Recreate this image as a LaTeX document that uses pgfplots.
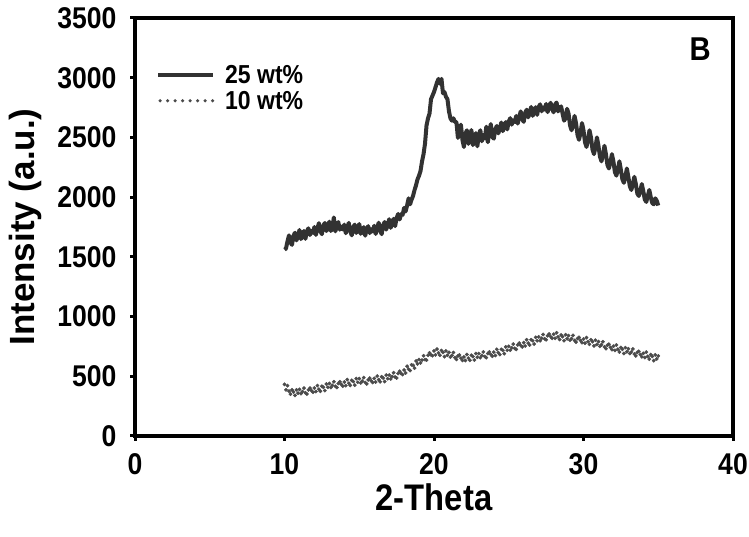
\documentclass[border=0pt]{standalone}
\usepackage{fontspec}
\setmainfont{Liberation Sans}
\newfontfamily\lab{Liberation Sans}[FakeStretch=0.885]
\usepackage{pgfplots}
\pgfplotsset{compat=1.18}
\usepackage{pgfplotstable}
\definecolor{lineA}{RGB}{50,50,50}
\definecolor{dotB}{RGB}{75,75,75}

% 25 wt%
\pgfplotstableread{
x y
10.0 1560
10.1 1570
10.2 1630
10.3 1680
10.4 1620
10.5 1600
10.6 1676
10.7 1702
10.8 1638
10.9 1674
11.0 1725
11.1 1649
11.2 1678
11.3 1717
11.4 1651
11.5 1715
11.6 1739
11.7 1683
11.8 1717
11.9 1701
12.0 1750
12.1 1684
12.2 1738
12.3 1782
12.4 1716
12.5 1690
12.6 1762
12.7 1784
12.8 1716
12.9 1748
13.0 1795
13.1 1717
13.2 1744
13.3 1830
13.4 1713
13.5 1775
13.6 1791
13.7 1727
13.8 1753
13.9 1729
14.0 1770
14.1 1698
14.2 1746
14.3 1784
14.4 1712
14.5 1680
14.6 1750
14.7 1770
14.8 1700
14.9 1730
15.0 1775
15.1 1693
15.2 1716
15.3 1749
15.4 1677
15.5 1735
15.6 1757
15.7 1699
15.8 1731
15.9 1713
16.0 1760
16.1 1692
16.2 1744
16.3 1786
16.4 1718
16.5 1690
16.6 1766
16.7 1792
16.8 1728
16.9 1764
17.0 1815
17.1 1743
17.2 1776
17.3 1819
17.4 1757
17.5 1825
17.6 1859
17.7 1813
17.8 1857
17.9 1851
18.0 1910
18.1 1880
18.2 1930
18.3 1990
18.4 1940
18.5 1980
18.6 2010
18.7 2060
18.8 2100
18.9 2150
19.0 2180
19.1 2220
19.2 2300
19.3 2360
19.4 2450
19.5 2600
19.6 2660
19.7 2700
19.8 2820
19.9 2850
20.0 2880
20.1 2920
20.2 2960
20.3 2990
20.4 2950
20.5 2990
20.6 2870
20.7 2880
20.8 2840
20.9 2820
21.0 2720
21.1 2660
21.2 2640
21.3 2660
21.4 2630
21.5 2628
21.6 2496
21.7 2556
21.8 2607
21.9 2481
22.0 2420
22.1 2530
22.2 2560
22.3 2446
22.4 2492
22.5 2562
22.6 2436
22.7 2478
22.8 2536
22.9 2426
23.0 2524
23.1 2560
23.2 2468
23.3 2520
23.4 2492
23.5 2590
23.6 2460
23.7 2544
23.8 2612
23.9 2504
24.0 2490
24.1 2568
24.2 2596
24.3 2534
24.4 2572
24.5 2625
24.6 2553
24.7 2586
24.8 2629
24.9 2567
25.0 2635
25.1 2661
25.2 2607
25.3 2643
25.4 2629
25.5 2680
25.6 2616
25.7 2672
25.8 2718
25.9 2654
26.0 2630
26.1 2706
26.2 2732
26.3 2668
26.4 2704
26.5 2755
26.6 2681
26.7 2712
26.8 2753
26.9 2689
27.0 2755
27.1 2777
27.2 2719
27.3 2751
27.4 2733
27.5 2780
27.6 2712
27.7 2764
27.8 2790
27.9 2738
28.0 2710
28.1 2776
28.2 2792
28.3 2718
28.4 2744
28.5 2760
28.6 2700
28.7 2640
28.8 2660
28.9 2740
29.0 2700
29.1 2600
29.2 2560
29.3 2600
29.4 2680
29.5 2620
29.6 2520
29.7 2480
29.8 2540
29.9 2620
30.0 2560
30.1 2460
30.2 2420
30.3 2480
30.4 2560
30.5 2500
30.6 2400
30.7 2360
30.8 2420
30.9 2500
31.0 2430
31.1 2340
31.2 2300
31.3 2350
31.4 2430
31.5 2360
31.6 2270
31.7 2240
31.8 2290
31.9 2360
32.0 2300
32.1 2210
32.2 2180
32.3 2230
32.4 2300
32.5 2230
32.6 2150
32.7 2120
32.8 2170
32.9 2240
33.0 2170
33.1 2090
33.2 2060
33.3 2110
33.4 2170
33.5 2110
33.6 2030
33.7 2010
33.8 2050
33.9 2110
34.0 2050
34.1 1980
34.2 1960
34.3 2010
34.4 2060
34.5 2000
34.6 1950
34.7 1940
34.8 1990
34.9 1970
35.0 1930
}\wtA

% 10 wt%
\pgfplotstableread{
x y
10.0 432
10.1 387
10.2 421
10.3 376
10.4 351
10.5 386
10.6 369
10.7 340
10.8 387
10.9 359
11.0 390
11.1 355
11.2 372
11.3 401
11.4 362
11.5 351
11.6 386
11.7 401
11.8 380
11.9 367
12.0 402
12.1 372
12.2 422
12.3 392
12.4 374
12.5 416
12.6 408
12.7 380
12.8 436
12.9 408
13.0 440
13.1 406
13.2 424
13.3 454
13.4 416
13.5 406
13.6 440
13.7 454
13.8 432
13.9 418
14.0 452
14.1 422
14.2 472
14.3 442
14.4 424
14.5 466
14.6 456
14.7 426
14.8 480
14.9 450
15.0 480
15.1 444
15.2 460
15.3 488
15.4 448
15.5 436
15.6 470
15.7 484
15.8 462
15.9 448
16.0 482
16.1 452
16.2 502
16.3 472
16.4 454
16.5 496
16.6 486
16.7 456
16.8 510
16.9 480
17.0 510
17.1 478
17.2 498
17.3 530
17.4 494
17.5 486
17.6 524
17.7 542
17.8 524
17.9 514
18.0 552
18.1 528
18.2 584
18.3 560
18.4 548
18.5 596
18.6 592
18.7 568
18.8 628
18.9 604
19.0 640
19.1 612
19.2 636
19.3 672
19.4 640
19.5 636
19.6 676
19.7 696
19.8 680
19.9 672
20.0 712
20.1 680
20.2 728
20.3 696
20.4 676
20.5 716
20.6 700
20.7 664
20.8 712
20.9 676
21.0 700
21.1 661
21.2 674
21.3 699
21.4 656
21.5 641
21.6 670
21.7 679
21.8 652
21.9 633
22.0 662
22.1 632
22.2 682
22.3 652
22.4 634
22.5 676
22.6 666
22.7 636
22.8 690
22.9 660
23.0 690
23.1 656
23.2 674
23.3 704
23.4 666
23.5 656
23.6 690
23.7 704
23.8 682
23.9 668
24.0 702
24.1 674
24.2 726
24.3 698
24.4 682
24.5 726
24.6 718
24.7 690
24.8 746
24.9 718
25.0 750
25.1 718
25.2 738
25.3 770
25.4 734
25.5 726
25.6 762
25.7 778
25.8 758
25.9 746
26.0 782
26.1 754
26.2 806
26.3 778
26.4 762
26.5 806
26.6 798
26.7 770
26.8 826
26.9 798
27.0 830
27.1 798
27.2 818
27.3 850
27.4 814
27.5 806
27.6 840
27.7 854
27.8 832
27.9 818
28.0 852
28.1 818
28.2 864
28.3 830
28.4 808
28.5 846
28.6 832
28.7 798
28.8 848
28.9 814
29.0 840
29.1 802
29.2 816
29.3 842
29.4 800
29.5 786
29.6 816
29.7 826
29.8 800
29.9 782
30.0 812
30.1 778
30.2 824
30.3 790
30.4 768
30.5 806
30.6 790
30.7 754
30.8 802
30.9 766
31.0 790
31.1 751
31.2 764
31.3 789
31.4 746
31.5 731
31.6 760
31.7 769
31.8 742
31.9 723
32.0 752
32.1 717
32.2 762
32.3 727
32.4 704
32.5 741
32.6 726
32.7 691
32.8 740
32.9 705
33.0 730
33.1 691
33.2 704
33.3 729
33.4 686
33.5 671
33.6 700
33.7 709
33.8 682
33.9 663
34.0 692
34.1 657
34.2 702
34.3 667
34.4 644
34.5 681
34.6 666
34.7 631
34.8 680
34.9 645
35.0 670
}\wtB

\begin{document}
\begin{tikzpicture}
\useasboundingbox (0,0) rectangle (749pt,537pt);
\begin{axis}[
    at={(135pt,101pt)}, anchor=south west,
    scale only axis,
    width=598pt, height=418pt,
    xmin=0, xmax=40, ymin=0, ymax=3500,
    xtick={0,10,20,30,40},
    ytick={0,500,1000,1500,2000,2500,3000,3500},
    xtick pos=left, ytick pos=left,
    tick align=outside,
    major tick length=5pt,
    every tick/.style={black, line width=3pt},
    axis line style={black, line width=3.5pt},
    /pgf/number format/assume math mode=true,
    /pgf/number format/1000 sep={},
    tick label style={font=\lab\fontsize{30}{30}\selectfont\bfseries},
    xticklabel style={yshift=-9pt},
    yticklabel style={xshift=-10pt},
    xlabel={2-Theta},
    ylabel={Intensity (a.u.)},
    every axis x label/.style={at={(rel axis cs:0.5,-0.146)}, anchor=center,
        font=\lab\fontsize{37}{37}\selectfont\bfseries},
    every axis y label/.style={at={(rel axis cs:-0.184,0.5)}, rotate=90, anchor=center,
        font=\fontsize{35}{35}\selectfont\bfseries},
    legend style={draw=none, fill=none, at={(rel axis cs:0.03,0.897)}, anchor=north west,
        font=\lab\fontsize{26}{26}\selectfont\bfseries, row sep=2pt, column sep=8pt},
]
\addplot[lineA, line width=4pt, line join=round,
    legend image code/.code={\draw[lineA, line width=4pt] (0pt,0pt) -- (55pt,0pt);}]
    table[x=x, y=y] {\wtA};
\addlegendentry{25 wt\%}
\addplot[dotB, only marks, mark=*, mark size=1.7pt,
    legend image code/.code={\draw[dotB, line width=3.6pt, line cap=round, dash pattern=on 0pt off 7.5pt] (2pt,0pt) -- (55pt,0pt);}]
    table[x=x, y=y] {\wtB};
\addlegendentry{10 wt\%}
\node[font=\lab\fontsize{33}{33}\selectfont\bfseries] at (rel axis cs:0.945,0.925) {B};
\end{axis}
\end{tikzpicture}
\end{document}
